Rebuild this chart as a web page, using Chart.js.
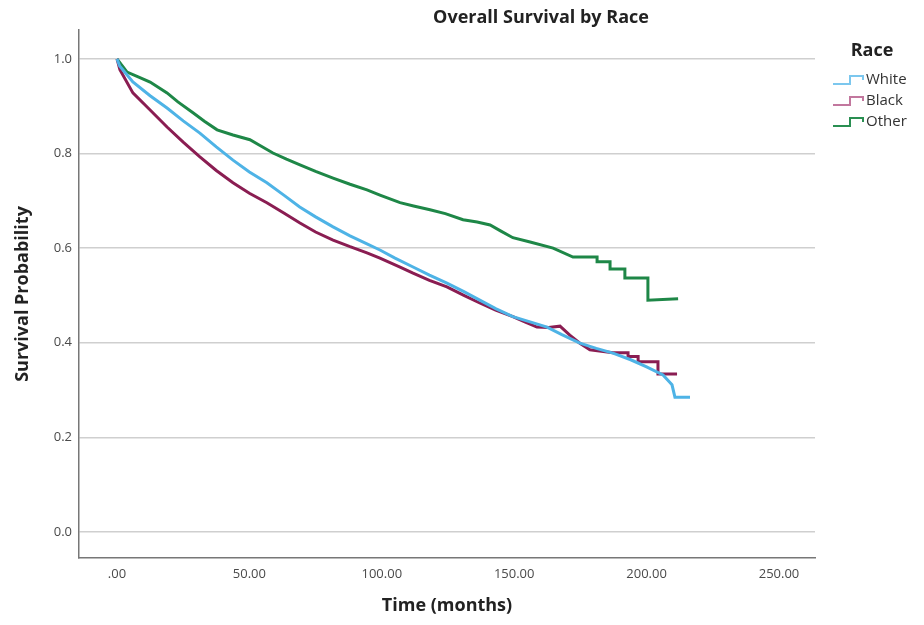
<!DOCTYPE html>
<html>
<head>
<meta charset="utf-8">
<script src="https://cdn.jsdelivr.net/npm/chart.js@4.4.1/dist/chart.umd.min.js"></script>
<style>
  html, body { margin: 0; padding: 0; background: #fff; }
  #wrap { width: 924px; height: 625px; }
</style>
</head>
<body>
<div id="wrap"><canvas id="survivalChart" width="924" height="625"></canvas></div>
<script>
// Kaplan-Meier curves (time in months, survival probability)
const whiteTime = [0, 1, 6, 12.5, 18.9, 25, 31.3, 37.5, 43.8, 50, 56.6, 63, 69, 75, 81.6, 88, 94.4, 99.3, 105, 111.8, 118, 124.6, 131, 137, 143, 149.5, 156, 162.4, 168, 174.8, 181, 187.3, 194, 200, 206.2, 209.6, 210.7, 216.4];
const whiteSurv = [1.0, 0.985, 0.951, 0.922, 0.896, 0.869, 0.843, 0.814, 0.786, 0.761, 0.738, 0.712, 0.687, 0.666, 0.645, 0.626, 0.609, 0.596, 0.579, 0.560, 0.543, 0.526, 0.508, 0.490, 0.472, 0.455, 0.444, 0.433, 0.417, 0.399, 0.388, 0.378, 0.364, 0.349, 0.332, 0.311, 0.285, 0.285];

const blackTime = [0, 1.1, 6, 12.5, 18.9, 25, 31.3, 37.5, 43.8, 50, 56.6, 63, 69.1, 75, 81.6, 88, 94.4, 99.3, 106.9, 111.8, 118, 124.6, 131, 137, 143, 149.5, 154, 158.6, 163, 167.3, 171, 174.8, 178.6, 187.3, 193, 193, 196.8, 196.8, 204.3, 204.3, 211.5];
const blackSurv = [1.0, 0.977, 0.928, 0.892, 0.856, 0.824, 0.793, 0.764, 0.738, 0.716, 0.696, 0.674, 0.653, 0.634, 0.617, 0.603, 0.590, 0.579, 0.560, 0.547, 0.532, 0.518, 0.500, 0.484, 0.469, 0.455, 0.444, 0.433, 0.432, 0.435, 0.416, 0.399, 0.385, 0.379, 0.379, 0.371, 0.371, 0.360, 0.360, 0.334, 0.334];

const otherTime = [0, 3.8, 8, 12.5, 18.9, 23, 28.7, 33, 37.8, 43.8, 50.2, 54, 58.9, 64, 69.1, 75, 81.6, 88, 94.4, 99.3, 106.9, 112, 118.2, 124, 130.7, 136, 140.9, 145, 149.5, 156, 164.7, 172.2, 177, 181.3, 181.3, 186.2, 186.2, 191.8, 191.8, 200.5, 200.5, 211.9];
const otherSurv = [1.0, 0.972, 0.962, 0.951, 0.928, 0.909, 0.886, 0.868, 0.850, 0.839, 0.829, 0.817, 0.801, 0.788, 0.776, 0.762, 0.748, 0.735, 0.723, 0.712, 0.696, 0.689, 0.681, 0.673, 0.660, 0.655, 0.649, 0.636, 0.622, 0.613, 0.600, 0.581, 0.581, 0.581, 0.571, 0.571, 0.556, 0.556, 0.537, 0.537, 0.490, 0.493];

const raceLabels = ['White', 'Black', 'Other'];
const lineColors = ['#4eb3e6', '#8a1d52', '#1e8747'];
const iconColors = ['#7cc7ee', '#c2779e', '#2a8f52'];

const xTicks = [0, 50, 100, 150, 200, 250];
const xTickLabels = ['.00', '50.00', '100.00', '150.00', '200.00', '250.00'];
const yTicks = [0, 0.2, 0.4, 0.6, 0.8, 1.0];
const yTickLabels = ['0.0', '0.2', '0.4', '0.6', '0.8', '1.0'];

const FONT = "'Open Sans', 'Liberation Sans', sans-serif";

function toPoints(times, surv) {
  return times.map((t, i) => ({ x: t, y: surv[i] }));
}

// Title sits right of centre in the original, so draw it ourselves
const titlePlugin = {
  id: 'offsetTitle',
  afterDraw(chart) {
    const ctx = chart.ctx;
    ctx.save();
    ctx.font = `bold 18px ${FONT}`;
    ctx.fillStyle = '#222';
    ctx.textAlign = 'center';
    ctx.textBaseline = 'middle';
    ctx.fillText('Overall Survival by Race', 541, 18);
    ctx.restore();
  }
};

// SPSS style legend with little step icons
const stepLegend = {
  id: 'stepLegend',
  afterDraw(chart) {
    const ctx = chart.ctx;
    ctx.save();
    ctx.font = `bold 18px ${FONT}`;
    ctx.fillStyle = '#222';
    ctx.textAlign = 'center';
    ctx.textBaseline = 'middle';
    ctx.fillText('Race', 872, 51);

    chart.data.datasets.forEach((ds, i) => {
      const y = 80 + i * 21;
      ctx.strokeStyle = iconColors[i];
      ctx.lineWidth = 2;
      ctx.beginPath();
      ctx.moveTo(833, y + 4);
      ctx.lineTo(850, y + 4);
      ctx.lineTo(850, y - 4);
      ctx.lineTo(863, y - 4);
      ctx.lineTo(863, y);
      ctx.stroke();
      ctx.font = `15px ${FONT}`;
      ctx.fillStyle = '#333';
      ctx.textAlign = 'left';
      ctx.fillText(ds.label, 866, y);
    });
    ctx.restore();
  }
};

const ctx = document.getElementById('survivalChart').getContext('2d');
new Chart(ctx, {
  type: 'scatter',
  data: {
    datasets: [
      { label: raceLabels[0], data: toPoints(whiteTime, whiteSurv) },
      { label: raceLabels[1], data: toPoints(blackTime, blackSurv) },
      { label: raceLabels[2], data: toPoints(otherTime, otherSurv) }
    ].map((ds, i) => Object.assign(ds, {
      showLine: true,
      borderColor: lineColors[i],
      backgroundColor: lineColors[i],
      borderWidth: 3,
      pointRadius: 0,
      tension: 0,
      fill: false
    }))
  },
  options: {
    responsive: false,
    animation: false,
    layout: { padding: { top: 30, right: 109, left: 0, bottom: 0 } },
    plugins: {
      legend: { display: false },
      tooltip: { enabled: false },
      title: { display: false }
    },
    scales: {
      x: {
        type: 'linear',
        min: -14.35,
        max: 263.6,
        afterFit(scale) { scale.height = 67; },
        afterBuildTicks(scale) { scale.ticks = xTicks.map(v => ({ value: v })); },
        grid: { display: false, drawTicks: false },
        border: { display: true, color: '#777', width: 1.5 },
        ticks: {
          padding: 8,
          color: '#4a4a4a',
          font: { family: FONT, size: 13 },
          callback: (v) => xTickLabels[xTicks.indexOf(v)]
        },
        title: {
          display: true,
          text: 'Time (months)',
          color: '#222',
          font: { family: FONT, size: 18, weight: 'bold' },
          padding: { top: 0, bottom: 8 }
        }
      },
      y: {
        min: -0.055,
        max: 1.061,
        afterFit(scale) { scale.width = 79; },
        afterBuildTicks(scale) { scale.ticks = yTicks.map(v => ({ value: v })); },
        grid: { color: '#cfcfcf', lineWidth: 1.5, drawTicks: false },
        border: { display: true, color: '#777', width: 1.5 },
        ticks: {
          padding: 7,
          color: '#4a4a4a',
          font: { family: FONT, size: 13 },
          callback: (v) => yTickLabels[yTicks.indexOf(v)]
        },
        title: {
          display: true,
          text: 'Survival Probability',
          color: '#222',
          font: { family: FONT, size: 18, weight: 'bold' },
          padding: { top: 12, bottom: 0 }
        }
      }
    }
  },
  plugins: [titlePlugin, stepLegend]
});
</script>
</body>
</html>
